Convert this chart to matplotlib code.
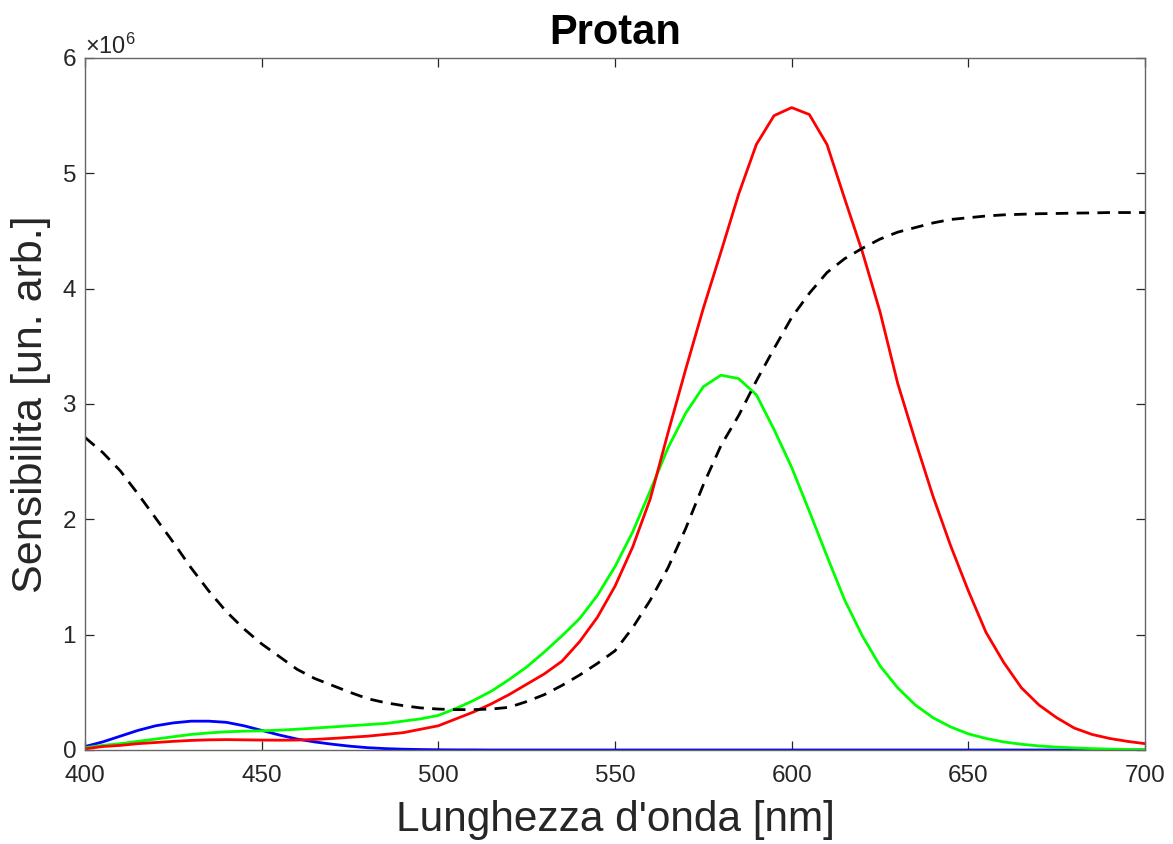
import numpy as np
import matplotlib
matplotlib.use("Agg")
import matplotlib.pyplot as plt
from matplotlib.ticker import ScalarFormatter, MultipleLocator

plt.rcParams['font.family'] = ['Liberation Sans', 'DejaVu Sans']
plt.rcParams['mathtext.fontset'] = 'custom'
plt.rcParams['mathtext.rm'] = 'Liberation Sans'
plt.rcParams['mathtext.it'] = 'Liberation Sans'

# wavelength grid (nm), values in units of 1e6
wl = np.arange(400, 705, 5)

red = [0.01, 0.03, 0.04, 0.055, 0.065, 0.075, 0.083, 0.088, 0.09, 0.088,
       0.086, 0.085, 0.086, 0.092, 0.10, 0.11, 0.12, 0.135, 0.15, 0.18,
       0.21, 0.27, 0.33, 0.40, 0.48, 0.57, 0.66, 0.77, 0.94, 1.15,
       1.42, 1.76, 2.18, 2.75, 3.30, 3.83, 4.32, 4.82, 5.25, 5.50,
       5.57, 5.51, 5.25, 4.78, 4.32, 3.80, 3.18, 2.68, 2.20, 1.77,
       1.38, 1.02, 0.76, 0.54, 0.39, 0.28, 0.19, 0.135, 0.10, 0.075,
       0.055]

green = [0.02, 0.04, 0.055, 0.075, 0.095, 0.115, 0.135, 0.148, 0.158, 0.163,
         0.166, 0.172, 0.18, 0.19, 0.20, 0.21, 0.22, 0.23, 0.25, 0.27,
         0.30, 0.36, 0.43, 0.51, 0.61, 0.72, 0.85, 0.99, 1.14, 1.34,
         1.59, 1.89, 2.25, 2.62, 2.92, 3.15, 3.25, 3.22, 3.08, 2.78,
         2.45, 2.07, 1.68, 1.30, 0.99, 0.73, 0.54, 0.39, 0.28, 0.20,
         0.14, 0.10, 0.07, 0.05, 0.035, 0.025, 0.018, 0.012, 0.008, 0.005,
         0.003]

blue = [0.03, 0.07, 0.12, 0.17, 0.21, 0.235, 0.25, 0.25, 0.24, 0.21,
        0.17, 0.13, 0.095, 0.07, 0.05, 0.033, 0.02, 0.012, 0.007, 0.004,
        0.002, 0.001, 0.001, 0.0, 0.0, 0.0, 0.0, 0.0, 0.0, 0.0,
        0.0, 0.0, 0.0, 0.0, 0.0, 0.0, 0.0, 0.0, 0.0, 0.0,
        0.0, 0.0, 0.0, 0.0, 0.0, 0.0, 0.0, 0.0, 0.0, 0.0,
        0.0, 0.0, 0.0, 0.0, 0.0, 0.0, 0.0, 0.0, 0.0, 0.0,
        0.0]

dashed = [2.71, 2.58, 2.42, 2.22, 2.01, 1.80, 1.58, 1.38, 1.20, 1.05,
          0.92, 0.81, 0.70, 0.62, 0.56, 0.50, 0.445, 0.41, 0.385, 0.365,
          0.355, 0.35, 0.35, 0.355, 0.37, 0.42, 0.48, 0.56, 0.65, 0.75,
          0.86, 1.06, 1.30, 1.58, 1.92, 2.30, 2.64, 2.90, 3.20, 3.48,
          3.75, 3.96, 4.14, 4.26, 4.35, 4.43, 4.49, 4.53, 4.57, 4.60,
          4.615, 4.63, 4.64, 4.645, 4.65, 4.652, 4.655, 4.657, 4.66, 4.66,
          4.66]

scale = 1e6
axis_col = '#262626'

fig = plt.figure(figsize=(11.73, 8.44), dpi=100)
ax = fig.add_axes([85 / 1173, 94 / 844, 1060 / 1173, 692 / 844])

ax.plot(wl, np.array(blue) * scale, color='#0000ff', lw=2, solid_joinstyle='round')
ax.plot(wl, np.array(green) * scale, color='#00ff00', lw=2, solid_joinstyle='round')
ax.plot(wl, np.array(red) * scale, color='#ff0000', lw=2, solid_joinstyle='round')
ax.plot(wl, np.array(dashed) * scale, color='black', lw=2, dashes=(4.5, 3))

ax.set_xlim(400, 700)
ax.set_ylim(0, 6e6)
ax.xaxis.set_major_locator(MultipleLocator(50))
ax.yaxis.set_major_locator(MultipleLocator(1e6))

fmt = ScalarFormatter(useMathText=True)
fmt.set_powerlimits((0, 0))
ax.yaxis.set_major_formatter(fmt)
ax.yaxis.get_offset_text().set_fontsize(17)
ax.yaxis.get_offset_text().set_color('#555555')

ax.tick_params(direction='in', length=6.5, width=0.9, top=True, right=True,
               labelsize=17.5, colors=axis_col)
ax.tick_params(axis='x', pad=11)
ax.tick_params(axis='y', pad=6)
for s in ax.spines.values():
    s.set_color('#666666')
    s.set_linewidth(1.0)

ax.set_xlabel("Lunghezza d'onda [nm]", fontsize=30.5, color=axis_col, labelpad=9)
ax.set_ylabel("Sensibilita [un. arb.]", fontsize=31, color=axis_col, labelpad=8)
ax.set_title("Protan", fontsize=30, fontweight='bold', pad=10)

fig.savefig("out.png", dpi=100)
